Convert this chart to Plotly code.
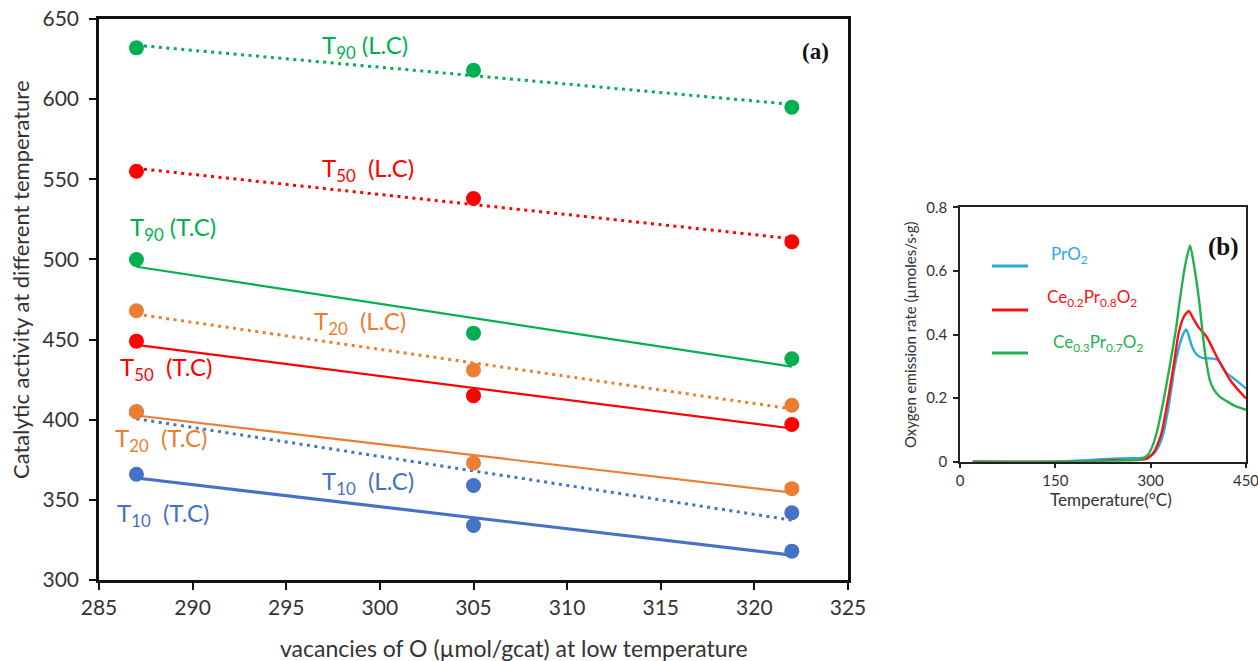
import numpy as np
import plotly.graph_objects as go

W, H = 1258, 661

# ---- panel (a): catalytic activity vs. oxygen vacancies ----
vacancies = [287, 305, 322]

t10_tc = [366, 334, 318]
t20_tc = [405, 373, 357]
t50_tc = [449, 415, 397]
t90_tc = [500, 454, 438]

t10_lc = [405, 359, 342]
t20_lc = [468, 431, 409]
t50_lc = [555, 538, 511]
t90_lc = [632, 618, 595]

GREEN = "#00B050"
RED = "#FF0000"
ORANGE = "#ED7D31"
BLUE = "#4472C4"

# ---- panel (b): oxygen emission rate vs. temperature ----
temp_pro2 = [20, 150, 200, 250, 285, 295, 305, 313, 320, 328, 338, 346, 352, 356,
             360, 365, 371, 377, 385, 393, 406, 413, 420, 435, 450]
rate_pro2 = [0, 0, 0.005, 0.01, 0.012, 0.015, 0.025, 0.05, 0.089, 0.17, 0.30, 0.37,
             0.405, 0.416, 0.395, 0.362, 0.34, 0.33, 0.325, 0.325, 0.32, 0.30, 0.278,
             0.255, 0.23]

temp_ce02 = [20, 200, 240, 280, 295, 305, 312, 317, 325, 336, 344, 352, 360, 367,
             375, 388, 404, 415, 425, 438, 450]
rate_ce02 = [0, 0, 0.005, 0.005, 0.01, 0.03, 0.06, 0.089, 0.17, 0.30, 0.404, 0.455,
             0.474, 0.45, 0.424, 0.393, 0.33, 0.29, 0.257, 0.225, 0.199]

temp_ce03 = [20, 150, 250, 285, 295, 302, 310, 320, 330, 340, 346, 354, 362, 368,
             376, 385, 393, 400, 409, 420, 430, 440, 450]
rate_ce03 = [0, 0, 0.003, 0.008, 0.02, 0.045, 0.095, 0.19, 0.30, 0.42, 0.51, 0.615,
             0.68, 0.62, 0.51, 0.35, 0.257, 0.225, 0.204, 0.19, 0.178, 0.17, 0.163]

B_BLUE = "#29ABE2"
B_RED = "#FF1010"
B_GREEN = "#22B14C"

FONT = "Lato"
TXT = "#333333"


def px(xp):
    return xp / W


def py(yp):
    return 1 - yp / H


fig = go.Figure()

# linear trend lines (least squares over the three points)
DOT = "3px,4.5px"
trend_specs = [
    (t90_lc, GREEN, DOT, 3),
    (t50_lc, RED, DOT, 3),
    (t20_lc, ORANGE, DOT, 3),
    (t10_lc, BLUE, DOT, 3),
    (t90_tc, GREEN, "solid", 2.2),
    (t50_tc, RED, "solid", 2.2),
    (t20_tc, ORANGE, "solid", 2.2),
    (t10_tc, BLUE, "solid", 3.2),
]
xs = np.array(vacancies, dtype=float)
for vals, color, dash, lw in trend_specs:
    k, b = np.polyfit(xs, np.array(vals, dtype=float), 1)
    xe = np.array([xs.min(), xs.max()])
    fig.add_trace(go.Scatter(
        x=xe, y=k * xe + b, mode="lines",
        line=dict(color=color, width=lw, dash=dash),
        showlegend=False, hoverinfo="skip", xaxis="x", yaxis="y"))

# measured points
for vals, color in [(t10_lc, BLUE), (t10_tc, BLUE), (t20_lc, ORANGE), (t20_tc, ORANGE),
                    (t50_lc, RED), (t50_tc, RED), (t90_lc, GREEN), (t90_tc, GREEN)]:
    fig.add_trace(go.Scatter(
        x=vacancies, y=vals, mode="markers",
        marker=dict(color=color, size=15, line=dict(width=0)),
        showlegend=False, xaxis="x", yaxis="y"))

# TPD curves
for tt, rr, color in [(temp_pro2, rate_pro2, B_BLUE),
                      (temp_ce02, rate_ce02, B_RED),
                      (temp_ce03, rate_ce03, B_GREEN)]:
    fig.add_trace(go.Scatter(
        x=tt, y=rr, mode="lines", line=dict(color=color, width=2.4, shape="spline",
                                            smoothing=0.6),
        showlegend=False, xaxis="x2", yaxis="y2"))

annotations = []

# series labels in panel (a)
labels_a = [
    ("T<sub>90</sub> (L.C)", GREEN, 320, 46),
    ("T<sub>50</sub>  (L.C)", RED, 320, 169),
    ("T<sub>90</sub> (T.C)", GREEN, 128, 228),
    ("T<sub>20</sub>  (L.C)", ORANGE, 312, 322),
    ("T<sub>50</sub>  (T.C)", RED, 118, 368),
    ("T<sub>20</sub>  (T.C)", ORANGE, 113, 440),
    ("T<sub>10</sub>  (L.C)", BLUE, 320, 482),
    ("T<sub>10</sub>  (T.C)", BLUE, 115, 514),
]
for text, color, xl, yc in labels_a:
    annotations.append(dict(
        text=text, x=px(xl), y=py(yc), xref="paper", yref="paper",
        xanchor="left", yanchor="middle", showarrow=False,
        font=dict(family=FONT, size=24, color=color)))

annotations.append(dict(
    text="<b>(a)</b>", x=px(815), y=py(52), xref="paper", yref="paper",
    xanchor="center", yanchor="middle", showarrow=False,
    font=dict(family="Liberation Serif", size=23, color="#111111")))
annotations.append(dict(
    text="<b>(b)</b>", x=px(1223), y=py(247), xref="paper", yref="paper",
    xanchor="center", yanchor="middle", showarrow=False,
    font=dict(family="Liberation Serif", size=25, color="#111111")))

# axis titles
annotations.append(dict(
    text="Catalytic activity at different temperature", x=px(21), y=py(280),
    xref="paper", yref="paper", xanchor="center", yanchor="middle",
    textangle=-90, showarrow=False, font=dict(family=FONT, size=22, color=TXT)))
annotations.append(dict(
    text="vacancies of O (µmol/gcat) at low temperature", x=px(514), y=py(648),
    xref="paper", yref="paper", xanchor="center", yanchor="middle",
    showarrow=False, font=dict(family=FONT, size=23, color=TXT)))
annotations.append(dict(
    text="Oxygen emission rate (µmoles/s·g)", x=px(910), y=py(335),
    xref="paper", yref="paper", xanchor="center", yanchor="middle",
    textangle=-90, showarrow=False, font=dict(family=FONT, size=15, color=TXT)))
annotations.append(dict(
    text="Temperature(°C)", x=px(1111), y=py(499),
    xref="paper", yref="paper", xanchor="center", yanchor="middle",
    showarrow=False, font=dict(family=FONT, size=17, color=TXT)))

# legend of panel (b)
shapes = []
legend_b = [
    ("PrO<sub>2</sub>", B_BLUE, 266, 1049, 255),
    ("Ce<sub>0.2</sub>Pr<sub>0.8</sub>O<sub>2</sub>", B_RED, 310, 1045, 298),
    ("Ce<sub>0.3</sub>Pr<sub>0.7</sub>O<sub>2</sub>", B_GREEN, 353, 1051, 343),
]
for text, color, yl, xt, yt in legend_b:
    shapes.append(dict(type="line", xref="paper", yref="paper",
                       x0=px(992), x1=px(1028), y0=py(yl), y1=py(yl),
                       line=dict(color=color, width=3)))
    annotations.append(dict(
        text=text, x=px(xt), y=py(yt), xref="paper", yref="paper",
        xanchor="left", yanchor="middle", showarrow=False,
        font=dict(family=FONT, size=17, color=color)))

axis_common = dict(showgrid=False, zeroline=False, showline=True, mirror=True,
                   ticks="outside", automargin=False, ticklabeloverflow="allow")

fig.update_layout(
    width=W, height=H, autosize=False,
    margin=dict(l=0, r=0, t=0, b=0, pad=0, autoexpand=False),
    paper_bgcolor="white", plot_bgcolor="white",
    showlegend=False,
    xaxis=dict(domain=[px(99), px(848)], range=[285, 325], dtick=5,
               linecolor="#111111", linewidth=2.5, ticklen=7, tickwidth=2,
               tickcolor="#111111",
               tickfont=dict(family=FONT, size=21, color=TXT), **axis_common),
    yaxis=dict(domain=[py(580), py(19)], range=[300, 650], dtick=50,
               linecolor="#111111", linewidth=2.5, ticklen=7, tickwidth=2,
               tickcolor="#111111", ticklabelstandoff=6,
               tickfont=dict(family=FONT, size=21, color=TXT), **axis_common),
    xaxis2=dict(domain=[px(960), px(1246)], range=[0, 450], dtick=150,
                anchor="y2", linecolor="#222222", linewidth=1.5, ticklen=5,
                tickwidth=1.5, tickcolor="#222222",
                tickfont=dict(family=FONT, size=15, color=TXT), **axis_common),
    yaxis2=dict(domain=[py(461.7), py(207.3)], range=[0, 0.8], dtick=0.2,
                anchor="x2", linecolor="#222222", linewidth=1.5, ticklen=5,
                tickwidth=1.5, tickcolor="#222222", tickformat=".1~f",
                ticklabelstandoff=3,
                tickfont=dict(family=FONT, size=15, color=TXT), **axis_common),
    annotations=annotations,
    shapes=shapes,
)

fig.write_html("out.html")
